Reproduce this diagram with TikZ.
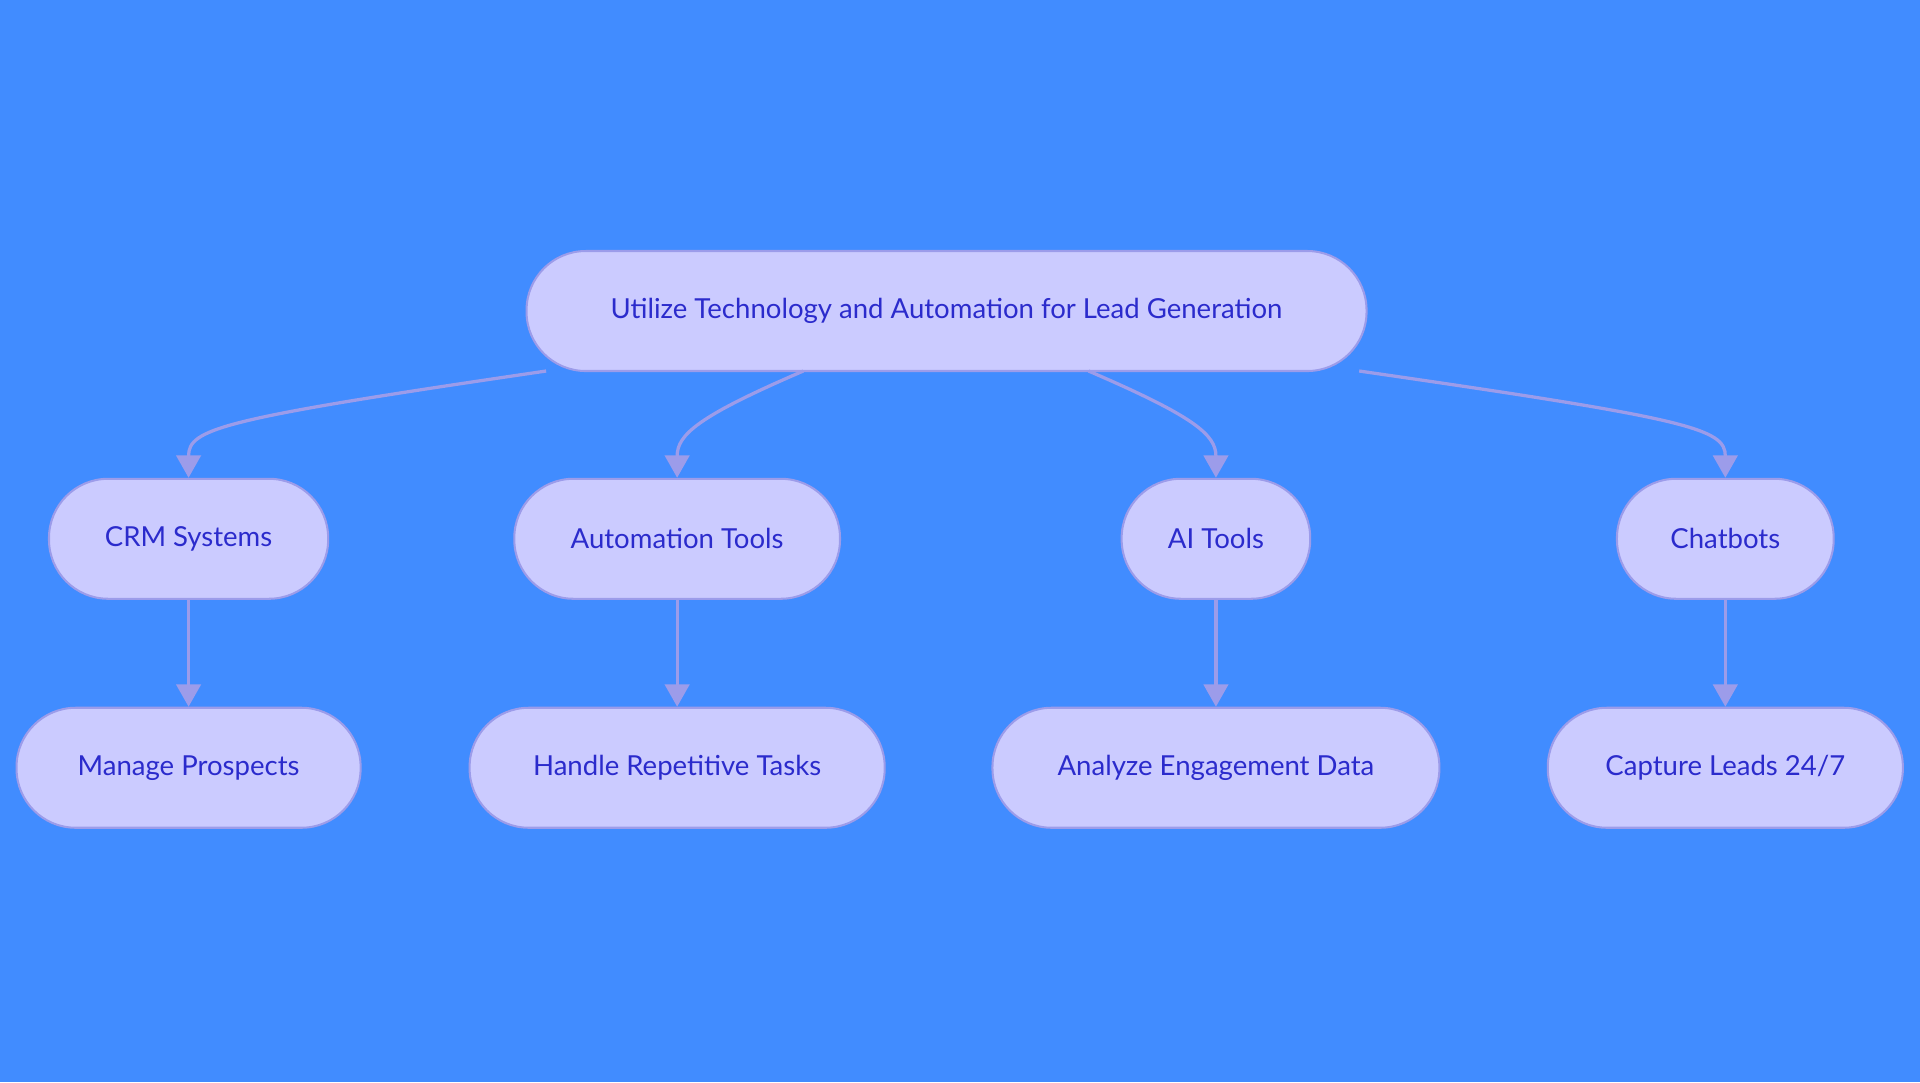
\documentclass[tikz,border=0pt]{standalone}
\usepackage{fontspec}
\setmainfont{Lato}
\usetikzlibrary{arrows.meta}
\definecolor{bg}{HTML}{418CFF}
\definecolor{nfill}{HTML}{CBCBFF}
\definecolor{nline}{HTML}{9C9CEA}
\definecolor{ntext}{HTML}{2B2BCC}
\tikzset{
  box/.style={draw=nline,line width=1pt,fill=nfill,text=ntext,rounded corners=29pt,
    minimum height=58.8pt,inner xsep=0pt,font=\fontsize{13.5}{16}\selectfont},
  link/.style={draw=nline,line width=1.6pt,-{Triangle[width=12pt,length=11pt]}}
}
\begin{document}
\begin{tikzpicture}[x=0.6pt,y=-0.6pt]
\fill[bg] (0,0) rectangle (1568,884);
\useasboundingbox (0,0) rectangle (1568,884);
\node[box,minimum width=411.6pt] (root) at (773,254) {Utilize Technology and Automation for Lead Generation};
\node[box,minimum width=136.8pt] (crm) at (154,440) {CRM Systems};
\node[box,minimum width=159.6pt] (auto) at (553,440) {Automation Tools};
\node[box,minimum width=92.4pt] (ai) at (993,440) {AI Tools};
\node[box,minimum width=106.2pt] (chat) at (1409,440) {Chatbots};
\node[box,minimum width=168.6pt] (manage) at (154,627) {Manage Prospects};
\node[box,minimum width=203.4pt] (handle) at (553,627) {Handle Repetitive Tasks};
\node[box,minimum width=219pt] (analyze) at (993,627) {Analyze Engagement Data};
\node[box,minimum width=174pt] (capture) at (1409,627) {Capture Leads 24/7};
\coordinate (r1) at (446,303);
\coordinate (r2) at (656,303);
\coordinate (r3) at (889,303);
\coordinate (r4) at (1110,303);
\draw[link] (r1) .. controls (180,342) and (154,350) .. (crm.north);
\draw[link] (r2) .. controls (570,340) and (553,355) .. (auto.north);
\draw[link] (r3) .. controls (975,340) and (993,355) .. (ai.north);
\draw[link] (r4) .. controls (1380,342) and (1409,350) .. (chat.north);
\draw[link] (crm) -- (manage);
\draw[link] (auto) -- (handle);
\draw[link] (ai) -- (analyze);
\draw[link] (chat) -- (capture);
\end{tikzpicture}
\end{document}
